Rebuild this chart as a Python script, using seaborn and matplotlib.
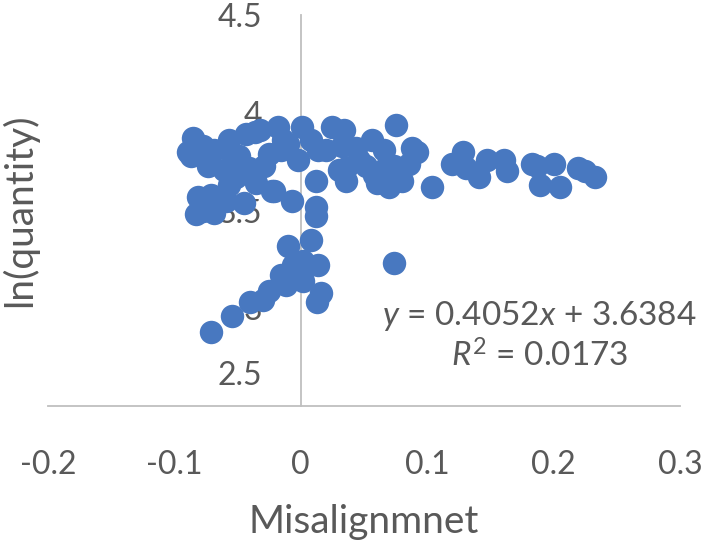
import matplotlib
matplotlib.use("Agg")
import matplotlib.pyplot as plt
from matplotlib.transforms import ScaledTranslation
import seaborn as sns
import pandas as pd

# data
misalign = [
    # top band, left part
    -0.085, -0.087, -0.077, -0.069, -0.059, -0.049, -0.073, -0.061, -0.051, -0.041,
    -0.043, -0.032, -0.035, -0.021, -0.057, -0.089, -0.057, -0.029, -0.016,
    # cluster under 3.5 label
    -0.081, -0.083, -0.069, -0.071, -0.059, -0.077, -0.045,
    # near the vertical axis
    -0.023, -0.007, 0.012, 0.012,
    # top band, middle part
    -0.036, -0.018, 0.001, 0.025, 0.034, 0.056, 0.075, 0.088, -0.002, 0.020,
    0.036, 0.012, 0.036, 0.060, 0.070, 0.080, 0.104, 0.008, 0.033, 0.044,
    0.052, 0.068, 0.086, 0.092, 0.062, -0.010, -0.025, -0.014,
    0.014, 0.046, 0.066, 0.030, 0.058, 0.074,
    # top band, right part
    0.128, 0.131, 0.147, 0.161, 0.163, 0.141, 0.183, 0.187, 0.189, 0.205,
    0.219, 0.225, 0.233, 0.200, 0.120,
    # lower arm
    -0.071, -0.054, -0.040, -0.030, -0.025, -0.016, -0.010, 0.008, -0.006, 0.014,
    0.002, 0.016, 0.013, -0.012, 0.002, 0.074,
]
ln_quantity = [
    3.87, 3.78, 3.83, 3.81, 3.82, 3.78, 3.73, 3.71, 3.67, 3.72,
    3.89, 3.91, 3.64, 3.60, 3.63, 3.80, 3.86, 3.73, 3.81,
    3.57, 3.48, 3.49, 3.58, 3.55, 3.50, 3.54,
    3.60, 3.55, 3.52, 3.47,
    3.90, 3.93, 3.93, 3.93, 3.91, 3.86, 3.94, 3.82, 3.76, 3.81,
    3.72, 3.65, 3.65, 3.64, 3.62, 3.65, 3.62, 3.86, 3.83, 3.82,
    3.73, 3.73, 3.74, 3.80, 3.68, 3.84, 3.79, 3.86,
    3.81, 3.76, 3.81, 3.71, 3.68, 3.73,
    3.80, 3.72, 3.76, 3.76, 3.70, 3.67, 3.74, 3.73, 3.63, 3.62,
    3.72, 3.70, 3.67, 3.74, 3.74,
    2.88, 2.96, 3.03, 3.04, 3.09, 3.17, 3.32, 3.35, 3.22, 3.22,
    3.14, 3.08, 3.03, 3.12, 3.24, 3.23,
]
x_ticks = [-0.2, -0.1, 0, 0.1, 0.2, 0.3]
y_ticks = [2.5, 3, 3.5, 4, 4.5]
equation = "$y$ = 0.4052$x$ + 3.6384"
r_squared = "$R^2$ = 0.0173"

df = pd.DataFrame({"Misalignmnet": misalign, "ln(quantity)": ln_quantity})

sns.set_style("white")
plt.rcParams["font.family"] = ["Lato", "DejaVu Sans"]
plt.rcParams["mathtext.fontset"] = "custom"
plt.rcParams["mathtext.rm"] = "Lato"
plt.rcParams["mathtext.it"] = "Lato:italic"

text_col = "#595959"
axis_col = "#BFBFBF"

fig = plt.figure(figsize=(7.04, 5.42), dpi=100)
ax = fig.add_axes([0.068, 0.251, 0.898, 0.721])

sns.scatterplot(data=df, x="Misalignmnet", y="ln(quantity)", ax=ax,
                color="#4878C0", s=285, linewidth=0, alpha=1, zorder=3)

ax.set_xlim(-0.2, 0.3)
ax.set_ylim(2.5, 4.5)
ax.set_xticks(x_ticks)
ax.set_xticklabels([f"{v:g}" for v in x_ticks])
ax.set_yticks(y_ticks)
ax.set_yticklabels([f"{v:g}" for v in y_ticks])

for s in ["top", "right"]:
    ax.spines[s].set_visible(False)
ax.spines["left"].set_position(("data", 0))
ax.spines["left"].set_color(axis_col)
ax.spines["bottom"].set_color(axis_col)
ax.spines["left"].set_linewidth(1.3)
ax.spines["bottom"].set_linewidth(1.3)
ax.spines["left"].set_zorder(1)

ax.tick_params(axis="both", length=0, labelsize=23, labelcolor=text_col)
ax.tick_params(axis="x", pad=32)
ax.tick_params(axis="y", pad=28)

# Excel pushed the lowest label up off the horizontal axis
first = ax.get_yticklabels()[0]
first.set_transform(first.get_transform() + ScaledTranslation(0, 0.33, fig.dpi_scale_trans))

ax.set_xlabel("Misalignmnet", fontsize=28, color=text_col, labelpad=17)
ax.set_ylabel("ln(quantity)", fontsize=28, color=text_col)
ax.yaxis.set_label_coords(-0.015, 0.5)

ax.text(0.1887, 2.96, equation, fontsize=24, color=text_col, ha="center", va="center", zorder=4)
ax.text(0.1887, 2.755, r_squared, fontsize=24, color=text_col, ha="center", va="center", zorder=4)

fig.savefig("out.png", dpi=100)
